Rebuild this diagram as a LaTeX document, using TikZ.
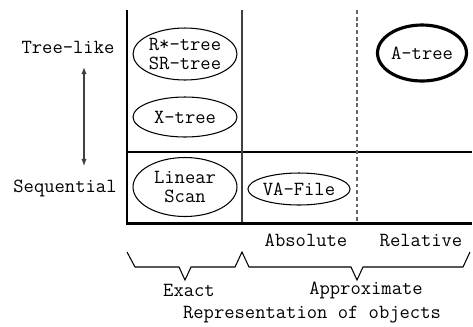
\documentclass[tikz,border=0pt]{standalone}
\usepackage{tikz}
\usetikzlibrary{shapes.geometric,arrows.meta,positioning}

\begin{document}
\begin{tikzpicture}[x=0.02cm, y=-0.02cm, >={Latex[length=4pt,width=3pt]},
    font=\ttfamily\fontsize{11.4}{11.2}\selectfont,
    method/.style={draw, ellipse, inner sep=0pt, line width=0.6pt, minimum width=2.08cm, align=center},
    axis/.style={line width=1.7pt},
    grid/.style={line width=0.6pt},
    bracket/.style={line width=0.6pt, line join=miter}]
        \useasboundingbox (0,0) rectangle (473,326);

        % axes and cells
        \coordinate (top) at (127,10);
        \coordinate (origin) at (127,223);
        \coordinate (right) at (472,223);
        \draw[grid] (127,152) -- (472,152);
        \draw[grid, black!75] (242,10) -- (242,223);
        \draw[grid, black!60, dash pattern=on 2.2pt off 1.6pt] (357,10) -- (357,223);
        \draw[axis] (top) -- (origin) -- (right);

        % index structures
        \node[method, minimum height=1.04cm] (rstar) at (185,54) {R*-tree\\SR-tree};
        \node[method, minimum height=0.80cm] (xtree) at (185,117) {X-tree};
        \node[method, minimum height=1.18cm] (linear) at (185,187) {Linear\\Scan};
        \node[method, minimum width=2.04cm, minimum height=0.64cm] (vafile) at (299,189) {VA-File};
        \node[method, line width=1.8pt, minimum width=1.78cm, minimum height=1.12cm] (atree) at (422,53) {A-tree};

        % vertical axis labels
        \node (treelike) at (68,47) {Tree-like};
        \node (sequential) at (65,188) {Sequential};
        \coordinate (up) at (84,67);
        \coordinate (down) at (84,166);
        \draw[<->, black!75, line width=0.6pt] (up) -- (down);

        % horizontal axis labels
        \node (absolute) at (306,240) {Absolute};
        \node (relative) at (421,240) {Relative};
        \draw[bracket] (127,252) -- (135,267) -- (179,267) -- (185,280) -- (191,267) -- (235,267) -- (242,252)
            -- (249,267) -- (351,267) -- (357,280) -- (363,267) -- (463,267) -- (470,252);
        \node (exact) at (189,290) {Exact};
        \node (approx) at (366,290) {Approximate};
        \node (repr) at (312,315) {Representation of objects};
    \end{tikzpicture}
\end{document}
